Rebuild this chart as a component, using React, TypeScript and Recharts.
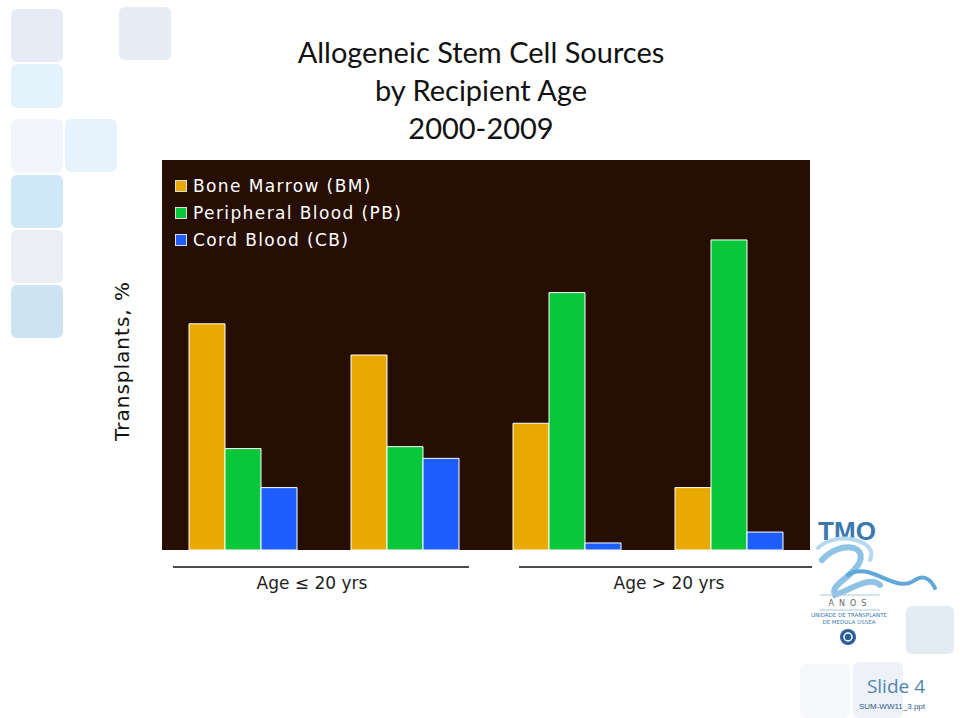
import React from 'react';
import { BarChart, Bar, XAxis, YAxis, CartesianGrid, Legend } from 'recharts';

const categories = ['Age ≤20, 2000–2004', 'Age ≤20, 2005–2009', 'Age >20, 2000–2004', 'Age >20, 2005–2009'];
const boneMarrow = [58, 50, 32.5, 16];
const peripheralBlood = [26, 26.5, 66, 79.5];
const cordBlood = [16, 23.5, 1.8, 4.6];
const seriesNames = ['Bone Marrow (BM)', 'Peripheral Blood (PB)', 'Cord Blood (CB)'];
const seriesColors = ['#E8AA00', '#08C83A', '#1E5EFF'];
const groupLabels = ['Age ≤ 20 yrs', 'Age > 20 yrs'];
const titleLines = ['Allogeneic Stem Cell Sources', 'by Recipient Age', '2000-2009'];

const data = categories.map((c, i) => ({
  category: c,
  bm: boneMarrow[i],
  pb: peripheralBlood[i],
  cb: cordBlood[i],
}));
const keys = ['bm', 'pb', 'cb'];

const squares = [
  { x: 11, y: 9, w: 52, h: 53, c: '#e7ebf5' },
  { x: 11, y: 64, w: 52, h: 44, c: '#e4f2fc' },
  { x: 11, y: 119, w: 52, h: 53, c: '#f2f6fc' },
  { x: 65, y: 119, w: 52, h: 53, c: '#e7f3fc' },
  { x: 11, y: 175, w: 52, h: 53, c: '#cfe8f8' },
  { x: 11, y: 230, w: 52, h: 53, c: '#eceef6' },
  { x: 11, y: 285, w: 52, h: 53, c: '#cde3f2' },
  { x: 119, y: 7, w: 52, h: 53, c: '#e5ecf5' },
  { x: 906, y: 606, w: 48, h: 48, c: '#e3ebf3' },
  { x: 853, y: 662, w: 50, h: 56, c: '#eef2f8' },
  { x: 800, y: 664, w: 50, h: 54, c: '#f6f8fb' },
];

const LegendContent = () => (
  <div style={{ fontFamily: 'DejaVu Sans, Verdana, sans-serif', fontSize: 17, color: '#ffffff', textAlign: 'left' }}>
    {seriesNames.map((n, i) => (
      <div key={n} style={{ display: 'flex', alignItems: 'center', height: 27 }}>
        <span
          style={{
            display: 'inline-block',
            width: 10,
            height: 10,
            background: seriesColors[i],
            border: '1px solid #dddddd',
            marginRight: 6,
          }}
        />
        <span style={{ letterSpacing: 1.4, whiteSpace: 'nowrap' }}>{n}</span>
      </div>
    ))}
  </div>
);

export default function App() {
  return (
    <div style={{ position: 'absolute', left: 0, top: 0, width: 960, height: 718, background: '#ffffff', overflow: 'hidden' }}>
      <svg width={960} height={718} style={{ position: 'absolute', left: 0, top: 0 }}>
        {squares.map((s, i) => (
          <rect key={i} x={s.x} y={s.y} width={s.w} height={s.h} rx={6} fill={s.c} />
        ))}
      </svg>
      <div style={{ position: 'absolute', left: 0, top: 0 }}>
        <BarChart
          width={960}
          height={718}
          data={data}
          margin={{ top: 160, right: 150, bottom: 168, left: 162 }}
          barGap={0}
          barSize={36}
        >
          <CartesianGrid horizontal={false} vertical={false} fill="#260E03" />
          <XAxis dataKey="category" hide />
          <YAxis hide domain={[0, 100]} />
          <Legend
            layout="vertical"
            verticalAlign="middle"
            align="center"
            content={<LegendContent />}
            wrapperStyle={{ position: 'absolute', left: 175, top: 172, width: 300, height: 81 }}
          />
          {keys.map((k, i) => (
            <Bar
              key={k}
              dataKey={k}
              name={seriesNames[i]}
              fill={seriesColors[i]}
              stroke="#ffffff"
              strokeWidth={1}
              isAnimationActive={false}
            />
          ))}
        </BarChart>
      </div>
      <svg width={960} height={718} style={{ position: 'absolute', left: 0, top: 0, pointerEvents: 'none' }}>
        {titleLines.map((t, i) => (
          <text
            key={t}
            x={481}
            y={63 + i * 38}
            textAnchor="middle"
            fontFamily="Lato, 'Open Sans', sans-serif"
            fontSize={29}
            fill="#111111"
          >
            {t}
          </text>
        ))}
        <text
          x={0}
          y={0}
          transform="translate(129,361) rotate(-90)"
          textAnchor="middle"
          fontFamily="'DejaVu Sans', Verdana, sans-serif"
          fontSize={20}
          letterSpacing={1}
          fill="#111111"
        >
          Transplants, %
        </text>
        <line x1={173} y1={567} x2={469} y2={567} stroke="#111111" strokeWidth={1.5} />
        <line x1={519} y1={567} x2={812} y2={567} stroke="#111111" strokeWidth={1.5} />
        <text x={312} y={589} textAnchor="middle" fontFamily="'DejaVu Sans', Verdana, sans-serif" fontSize={17} fill="#222222">
          {groupLabels[0]}
        </text>
        <text x={669} y={589} textAnchor="middle" fontFamily="'DejaVu Sans', Verdana, sans-serif" fontSize={17} fill="#222222">
          {groupLabels[1]}
        </text>
        {/* TMO logo */}
        <text x={847} y={540} textAnchor="middle" fontFamily="'Liberation Sans', Arial, sans-serif" fontWeight="bold" fontSize={26} fill="#3a78ad">
          TMO
        </text>
        <path d="M822,560 C840,540 870,545 858,565 C848,580 830,585 835,595 C850,590 870,575 880,585" fill="none" stroke="#8fc3e6" strokeWidth={6} strokeLinecap="round" />
        <path d="M848,575 C870,560 895,595 915,580 C925,573 932,582 935,588" fill="none" stroke="#5fa8d8" strokeWidth={4} strokeLinecap="round" />
        <path d="M818,548 C835,530 880,540 870,560" fill="none" stroke="#b5daf0" strokeWidth={4} strokeLinecap="round" />
        <line x1={820} y1={595} x2={880} y2={595} stroke="#a7c9e0" strokeWidth={1} />
        <text x={850} y={606} textAnchor="middle" fontFamily="'DejaVu Sans', sans-serif" fontSize={8} fill="#666666" letterSpacing={5}>
          ANOS
        </text>
        <line x1={820} y1={610} x2={880} y2={610} stroke="#a7c9e0" strokeWidth={1} />
        <text x={849} y={617} textAnchor="middle" fontFamily="'DejaVu Sans', sans-serif" fontSize={5.5} fill="#3a78ad">
          UNIDADE DE TRANSPLANTE
        </text>
        <text x={849} y={624} textAnchor="middle" fontFamily="'DejaVu Sans', sans-serif" fontSize={5.5} fill="#3a78ad">
          DE MEDULA ÓSSEA
        </text>
        <circle cx={848} cy={637} r={8} fill="#2c5f9a" />
        <circle cx={848} cy={637} r={4} fill="none" stroke="#ffffff" strokeWidth={1.5} />
        <text x={925} y={693} textAnchor="end" fontFamily="'Open Sans', 'DejaVu Sans', sans-serif" fontSize={19} fill="#4f86b0">
          Slide 4
        </text>
        <text x={925} y={709} textAnchor="end" fontFamily="'Liberation Sans', Arial, sans-serif" fontSize={8} fill="#2a5a8a">
          SUM-WW11_3.ppt
        </text>
      </svg>
    </div>
  );
}
